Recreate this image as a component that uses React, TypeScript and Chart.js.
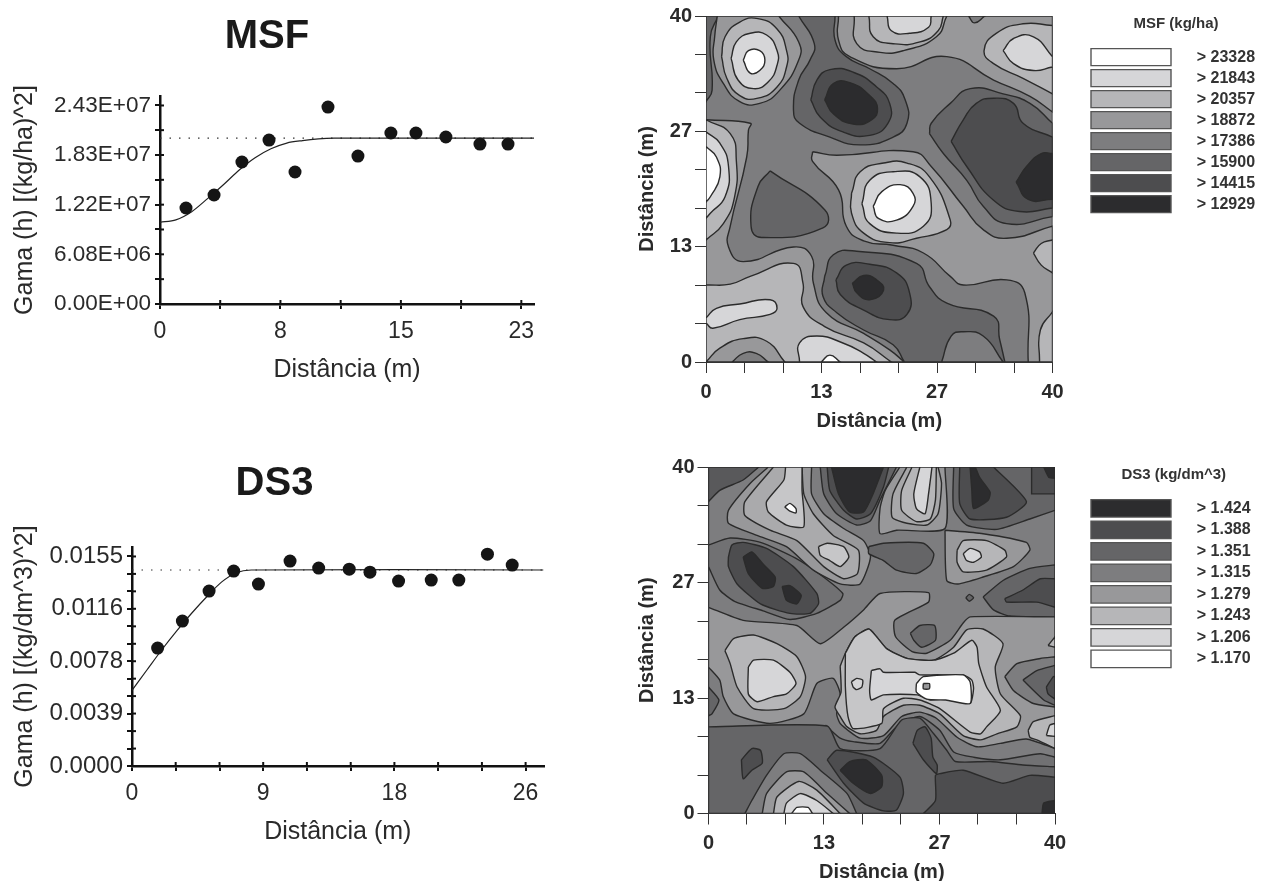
import React, { useEffect, useRef } from "react";
import { Chart, registerables } from "chart.js";

Chart.register(...registerables);

// ---------- semivariograms ----------
const msfLagX = [1.64, 3.41, 5.17, 6.88, 8.52, 10.6, 12.49, 14.57, 16.15, 18.04, 20.19, 21.96];
const msfGamma = [1.175e7, 1.334e7, 1.738e7, 2.007e7, 1.616e7, 2.411e7, 1.811e7, 2.093e7, 2.093e7, 2.044e7, 1.958e7, 1.958e7];
const msfModelX = [0, 1, 2, 3, 4, 5, 6, 7, 8, 9, 10, 11, 12, 23.6];
const msfModelY = [1.0e7, 1.03e7, 1.13e7, 1.29e7, 1.46e7, 1.64e7, 1.79e7, 1.9e7, 1.97e7, 2.0e7, 2.02e7, 2.03e7, 2.03e7, 2.03e7];
const msfSill = 2.03e7;
const msfXTicks = [0, 3.8, 7.6, 11.4, 15.2, 19, 22.8];
const msfXLabels = ["0", "", "8", "", "15", "", "23"];
const msfYTicks = [0, 3.04e6, 6.08e6, 9.12e6, 1.216e7, 1.52e7, 1.824e7, 2.128e7, 2.43e7];
const msfYLabels = ["0.00E+00", "", "6.08E+06", "", "1.22E+07", "", "1.83E+07", "", "2.43E+07"];

const ds3LagX = [1.72, 3.38, 5.17, 6.82, 8.48, 10.6, 12.52, 14.57, 15.96, 17.88, 20.07, 21.92, 23.84, 25.5];
const ds3Gamma = [0.00872, 0.01072, 0.01294, 0.01442, 0.01346, 0.01516, 0.01464, 0.01456, 0.01434, 0.01368, 0.01375, 0.01375, 0.01567, 0.01486];
const ds3ModelX = [0, 1, 2, 3, 4, 5, 6, 7, 8, 27.6];
const ds3ModelY = [0.0056, 0.0071, 0.0086, 0.01, 0.0113, 0.0125, 0.0136, 0.0143, 0.0145, 0.0145];
const ds3Sill = 0.0145;
const ds3XTicks = [0, 2.93, 5.87, 8.8, 11.73, 14.67, 17.6, 20.53, 23.47, 26.4];
const ds3XLabels = ["0", "", "", "9", "", "", "18", "", "", "26"];
const ds3YTicks = [0, 0.00129, 0.00258, 0.00388, 0.00517, 0.00646, 0.00775, 0.00904, 0.01033, 0.01163, 0.01292, 0.01421, 0.0155];
const ds3YLabels = ["0.0000", "", "", "0.0039", "", "", "0.0078", "", "", "0.0116", "", "", "0.0155"];

// ---------- contour maps: [x, y, x, y, ...] in metres ----------
const mapTicks = [0, 4.44, 8.89, 13.33, 17.78, 22.22, 26.67, 31.11, 35.56, 40];
const mapTickLabels = ["0", "", "", "13", "", "", "27", "", "", "40"];
const plot = [0, 0, 40, 0, 40, 40, 0, 40];

const msfRegions: [number, number[]][] = [
  [4, plot],
  [5, [0, 40, 1.4, 40, 0.5, 37.6, 0.7, 31.4, 0, 30.1]],
  [3, [1.3, 40, 8.4, 40, 10.7, 37, 10.7, 34.9, 8.5, 31.4, 6.2, 29.9, 3.9, 30.1, 2, 32.2, 0.9, 34.9, 1, 37.6]],
  [2, [1.8, 35.3, 2.2, 37.6, 3.9, 39.3, 6, 39.7, 8.2, 38.5, 9.3, 36, 9.3, 34.1, 8.2, 31.8, 6, 30.5, 3.9, 30.8, 2.4, 32.8]],
  [1, [2.9, 35.1, 3.5, 37, 5.1, 38, 7, 37.8, 8.2, 36, 8.2, 34.3, 7.2, 32.4, 5.5, 31.6, 3.7, 32.6]],
  [0, [4.3, 34.9, 4.9, 36, 6.2, 36, 6.8, 34.9, 6.2, 33.7, 5.1, 33.4]],
  [5, [10.7, 40, 12.5, 36.8, 12, 34.9, 10.7, 32.6, 10.1, 29.1, 10.8, 27.6, 14.3, 26, 17.8, 25.1, 21.6, 26, 23.2, 27.6, 23, 30.3, 21.6, 32.2, 18.9, 33.9, 16.2, 35.3, 14.9, 37.2, 14.9, 40]],
  [6, [12.1, 30.3, 12.8, 32.6, 14.3, 33.8, 17, 33.5, 19.7, 31.8, 21.2, 29.9, 21, 27.6, 18.9, 26.2, 15.8, 26.6, 13.2, 28.3]],
  [7, [13.7, 30.3, 14.7, 32.2, 16.6, 32.3, 18.9, 30.8, 19.8, 29.3, 19.1, 28, 17, 27.5, 14.7, 28.7]],
  [3, [15.3, 40, 15.3, 37.2, 16.6, 35.3, 22, 33.9, 27.8, 35.3, 33.2, 32.6, 37.4, 30.7, 40, 28.9, 40, 40]],
  [4, [30.3, 40, 31, 39.2, 32.2, 40]],
  [2.5, [17.1, 40, 17.4, 36.8, 20.1, 35.8, 22.8, 36, 26.6, 37.6, 27.8, 40]],
  [2, [18.8, 40, 19.3, 37.6, 21.6, 36.8, 24.7, 37, 26.8, 38.3, 27.4, 40]],
  [1, [20.9, 40, 21.4, 38.3, 23.5, 38, 25.7, 38.7, 26, 40]],
  [2, [40, 38.9, 36.6, 39.1, 33.5, 38, 32.1, 36, 33.2, 34.5, 36.6, 32.8, 40, 31]],
  [1, [34.3, 36, 35.5, 37.4, 37.8, 37.6, 40, 35.3, 40, 34.1, 37.8, 33.7, 35.5, 34.5]],
  [5, [25.8, 26.4, 27.4, 24.1, 30.1, 21, 32, 18, 34.7, 16, 40, 16.8, 40, 27.6, 37.4, 29.9, 34.3, 31, 30.5, 31.6, 28.2, 29.9, 26, 27.6]],
  [6, [28.3, 25.5, 29.7, 28, 31.2, 29.9, 33.2, 30.5, 35.5, 29.9, 36.6, 27.6, 40, 26, 40, 17.8, 36.2, 17.4, 33.2, 18.7, 30.1, 22.6]],
  [7, [35.8, 20.8, 37, 22.6, 38.7, 24.1, 40, 24.1, 40, 18.8, 37.2, 18.8]],
  [3, [0, 28, 5.1, 27.6, 4.9, 26.8, 4.7, 23.7, 2.8, 15.7, 2.6, 13.3, 4.3, 11.6, 10.1, 13.3, 12.2, 12.2, 12.4, 9.1, 13.9, 5.7, 18.2, 3.3, 21.2, 1.4, 22.9, 0, 0, 0]],
  [2, [0, 28, 2.8, 26.4, 3.5, 23.3, 3.3, 19.1, 2, 16, 0, 14.1]],
  [1, [0, 26.6, 1.6, 25.3, 2.6, 22.6, 2.2, 19.1, 0.5, 17.2, 0, 16.6]],
  [0, [0, 24.9, 1.2, 23.7, 1.6, 21.4, 0.5, 19.1, 0, 18.5]],
  [5, [7.4, 22.1, 13.7, 17.6, 13.5, 15.5, 6.4, 14.4, 5.2, 15.7, 6, 20.3]],
  [3, [12.3, 24.3, 15.1, 23.9, 23.9, 24.3, 26, 22.6, 29.7, 18, 32, 15.3, 34.7, 14.3, 40, 15.7, 40, 0, 37.2, 0, 36.8, 8, 34.7, 9.5, 29.7, 8.9, 28.2, 9.9, 25.1, 12.6, 21.6, 13.5, 18.2, 14, 16.2, 15.7, 15.3, 19.9, 12.3, 23.2]],
  [2, [16.8, 19.5, 17.8, 22, 20.5, 23, 23.2, 23, 25.8, 21.4, 28.2, 16.4, 27.8, 15.3, 24.3, 14.3, 21.2, 13.8, 18.2, 14.9, 16.8, 17.2]],
  [1, [18, 18.3, 18.9, 21, 21.6, 22, 24.7, 21.4, 26, 18.3, 25.1, 15.7, 22, 14.9, 18.9, 16]],
  [0, [19.3, 18, 20.3, 19.7, 22.4, 20.5, 23.9, 19.5, 23.9, 18, 22, 16.4, 19.9, 16.6]],
  [5, [13.7, 9.9, 14.7, 12.4, 17.4, 12.8, 24.3, 11.4, 25.8, 8.7, 27.8, 6.8, 33.2, 5.3, 33.9, 2.6, 34.5, 0, 22.9, 0, 21.6, 2, 18.2, 3.7, 15.1, 5.7, 13.5, 7.6]],
  [6, [15, 9.5, 16.2, 11.2, 18.9, 11.3, 22, 10.3, 23.5, 8, 23.2, 5.5, 21.2, 4.9, 18.2, 6, 15.5, 7.8]],
  [7, [16.9, 9.1, 18.2, 10, 19.7, 9.5, 20.5, 8.3, 18.9, 7.2, 17.4, 8]],
  [4, [27.2, 0, 28.3, 3, 29.7, 3.5, 32, 3, 34.3, 0]],
  [2, [0, 8.9, 2.8, 9, 5.1, 9.9, 10.1, 11.4, 11.2, 9.1, 11.2, 6.4, 13.7, 4.1, 18.2, 2.2, 21.4, 0, 0, 0]],
  [1, [0, 5.1, 1.2, 6.2, 3.9, 6.7, 7.4, 7.2, 8.2, 6.2, 7.4, 5.5, 3.9, 4.9, 0.8, 3.9, 0, 4.5]],
  [3, [0, 0, 1.6, 1.6, 4.3, 2.7, 7, 2.4, 9.1, 0]],
  [4, [3, 0, 4.3, 1, 5.8, 1, 7.2, 0]],
  [1, [10.8, 0, 10.8, 2.2, 12.8, 3, 15.8, 2.2, 18.2, 1, 19.7, 0]],
  [0, [13.3, 0, 14.3, 0.8, 15.5, 0]],
  [2, [37.8, 12.6, 38.7, 13.7, 40, 14.1, 40, 10.3, 38.7, 11.2]],
  [2, [38.5, 0, 38.6, 3.7, 40, 5.8, 40, 0]],
];

const ds3Regions: [number, number[]][] = [
  [4, plot],
  [5.5, [0, 40, 5.8, 40, 4, 38.5, 1.3, 37.3, 0, 36]],
  [4.5, [0, 28.5, 1.3, 25.8, 3, 24.5, 6.3, 23.4, 9.4, 22.4, 12.5, 23.1, 15.2, 24.6, 15.5, 25.4, 13, 27.5, 10, 29.5, 6, 31.3, 2.5, 31.8, 0, 31]],
  [6, [2.3, 29.6, 2.7, 31, 4, 31.3, 6.7, 30.6, 9.8, 28.5, 12.5, 25.4, 12.7, 24.2, 11.7, 23.1, 9.4, 23.1, 6, 24.2, 3.3, 26.5, 2.3, 28.5]],
  [7, [4, 29.6, 5, 30.2, 6.3, 28.8, 7.7, 27.3, 7.5, 26.2, 6.2, 26, 4.6, 27.7]],
  [7, [8.5, 26.2, 9.4, 26.3, 10.7, 25.2, 10.2, 24.2, 9, 24.6]],
  [3, [6.9, 40, 4.8, 38.1, 2.3, 35, 2.3, 33.5, 5.6, 32.1, 9, 30.8, 12.1, 28.1, 15.2, 26.5, 17.5, 26.5, 18.7, 29.6, 17.9, 31.5, 15.6, 32.9, 13.3, 34.6, 11.9, 36.9, 11.9, 40]],
  [2.4, [7.5, 40, 4.2, 36, 4.2, 34.4, 7.1, 32.7, 10.2, 31.5, 13.3, 28.5, 15.6, 27.1, 17.2, 27.7, 17.3, 30.4, 14.4, 32.1, 12.1, 34.6, 11, 36.9, 10.8, 40]],
  [1.5, [8.9, 40, 8.7, 38.5, 6.7, 36, 6.9, 34.8, 9, 33.3, 11, 33.1, 10.8, 37.3, 10.8, 40]],
  [0, [8.8, 35.4, 9.4, 35.8, 10.1, 35.2, 10.1, 34.7, 9.4, 34.9]],
  [1.5, [12.7, 30.8, 13.7, 31.2, 15.6, 30.8, 16.2, 29.6, 15.2, 28.5, 14, 29.2, 12.9, 29.8]],
  [5, [12.9, 40, 13.3, 36.9, 14.8, 34.6, 17.1, 33.3, 18.7, 33.8, 19.8, 36.2, 21.7, 40]],
  [6, [13.7, 40, 14, 37.3, 15.6, 35, 17.1, 34, 18.7, 34.6, 20.2, 37.7, 20.8, 40]],
  [7, [14.2, 40, 15, 36.9, 16.3, 34.8, 17.9, 34.8, 19, 36.9, 20.2, 40]],
  [3, [22.1, 40, 20.4, 37.3, 19.8, 35.2, 19.8, 32.3, 21.7, 32.7, 27.3, 32.9, 27.3, 40]],
  [2.5, [22.9, 40, 21.3, 36.9, 21.2, 34.2, 22.9, 33.5, 25.2, 33.3, 26.5, 34.6, 26.9, 38.1, 26.5, 40]],
  [2, [23.5, 40, 22.3, 37.3, 22.3, 35, 24, 33.7, 25.6, 34, 26.2, 36.2, 26.3, 40]],
  [1, [24.4, 40, 23.7, 36.9, 24, 35.2, 25, 34.6, 25.4, 36.9, 25.8, 40]],
  [5, [18.5, 30.8, 20.2, 31.2, 24.8, 31.2, 26, 30, 25.6, 28.7, 24, 27.7, 21.7, 28.1, 20.2, 29.2, 18.5, 30]],
  [5, [28.3, 40, 28.3, 35.2, 29.8, 33.3, 33.3, 32.8, 37.1, 34, 40, 35, 40, 40]],
  [6, [37.3, 40, 37.3, 36.9, 37.3, 36.9, 40, 36.9, 40, 40]],
  [7, [38.7, 40, 39.3, 38.8, 40, 38.7, 40, 40]],
  [6, [29, 40, 29, 35.8, 30.2, 34, 34.4, 34.2, 36.7, 36, 32.9, 40]],
  [7, [30.2, 40, 30.4, 37.3, 30.6, 35.2, 32.3, 36.2, 32.5, 37.1, 31.3, 38.8, 30.8, 40]],
  [3, [27.3, 32.7, 31.7, 32.3, 36.7, 31.3, 37.1, 30.4, 35.2, 28.5, 31.7, 27.3, 28.8, 26.5, 27.5, 26.9]],
  [2, [28.7, 30.4, 29.4, 31.5, 32.1, 31.5, 34.2, 30.4, 34.4, 29.6, 32.1, 28.1, 29.4, 27.9, 28.7, 29]],
  [1, [29.4, 30, 30.2, 30.6, 31.3, 30.2, 31.5, 29.6, 30.6, 29, 29.8, 29.2]],
  [5, [29.7, 24.9, 30.1, 25.3, 30.6, 24.9, 30.1, 24.5]],
  [5, [31.7, 25, 34, 26.9, 37.1, 28.3, 40, 28.7, 40, 22.7, 34.8, 22.8, 32.9, 23.5]],
  [6, [34.2, 24.8, 36.3, 25.8, 38.3, 27.1, 40, 27.1, 40, 23.8, 37.9, 24.4, 34.4, 24.4]],
  [3, [0, 23.8, 4, 22.3, 10.2, 21.7, 12.9, 19.6, 15.6, 21.5, 17.9, 23.5, 19.8, 25.4, 25.4, 25.5, 25.4, 24.4, 21.5, 22.3, 21.6, 20.4, 23.5, 18.7, 25.2, 18.5, 27.9, 20, 29.4, 22, 30.2, 22.7, 40, 22.7, 40, 7.5, 36.7, 8.6, 33.7, 8.1, 31, 7.7, 28.7, 8.8, 26.3, 11, 24.4, 11.7, 22.3, 11.2, 20.2, 9, 17.5, 8.7, 15.2, 10.4, 14.8, 11.5, 15.2, 13.8, 14.4, 15.6, 12.5, 15, 11, 11.5, 7.1, 10.4, 2.9, 11.5, 1.7, 13.5, 1.3, 15.4, 0, 16.9]],
  [5, [23.3, 20.8, 24.4, 21.7, 26.1, 21.7, 26.2, 20, 24.6, 19.2, 23.7, 20]],
  [2, [1.9, 18.8, 2.9, 20.2, 5.2, 20.6, 7.9, 19.6, 10.2, 18.1, 11.2, 15.8, 10.6, 13.5, 8.7, 12.1, 5.2, 12.1, 3.3, 14.6, 2.5, 17.3]],
  [1, [4.6, 16.9, 5.2, 17.7, 7.5, 17.7, 9.4, 16.3, 10.1, 15, 9, 13.8, 7.5, 13.5, 5.6, 12.9, 4.6, 13.8]],
  [2, [15.2, 17, 15.8, 18.5, 16.9, 20.4, 18.5, 21.3, 19.4, 20.4, 20.6, 19, 22.9, 17.9, 26, 17.7, 28.3, 19.2, 29.8, 21.2, 31.7, 21.3, 34, 19.6, 33.1, 16.9, 33.7, 13.8, 36, 11.3, 35.6, 10, 33.3, 9.2, 31.4, 8.5, 29.4, 9, 26.7, 11.5, 24.4, 12.5, 22.5, 12.5, 20.2, 11.2, 19.4, 9.6, 17.5, 9.2, 16, 10, 15.2, 11.2, 14.6, 12.3, 15.3, 14]],
  [1.5, [15.8, 18.5, 16.9, 20.4, 18.5, 21.3, 19.4, 20.4, 20.6, 19, 22.9, 17.9, 26, 17.7, 28.3, 18.5, 30.4, 20, 31, 19.2, 31.2, 17.3, 32.1, 14.6, 33.7, 11.9, 32.1, 10, 31.4, 9.2, 30.2, 9.4, 26.7, 12.1, 24.4, 13.1, 22.5, 13.3, 20.2, 12.1, 20, 10.4, 16.7, 9.8, 16.1, 11.2, 15.8, 14.6]],
  [1, [18.8, 16.5, 19.8, 16.7, 20.2, 16.3, 23.8, 16.3, 24.4, 16, 29.4, 16, 30.4, 15.4, 30.6, 14.4, 30.2, 12.7, 28.3, 13.3, 25.6, 13.1, 24.1, 13.7, 20.2, 13.7, 18.8, 13.1, 18.6, 14.2]],
  [0, [24, 15, 24.8, 15.8, 29.4, 16, 30.2, 15.2, 30.2, 12.7, 27.4, 13.1, 25.2, 13.2, 24, 14]],
  [3, [24.8, 15, 25.5, 15, 25.5, 14.4, 24.8, 14.4]],
  [1, [16.5, 15.2, 17.1, 15.6, 17.8, 15.4, 17.7, 14.6, 17.1, 14.3, 16.7, 14.6]],
  [4, [34.2, 15.8, 35.6, 17.3, 38.3, 17.9, 40, 18.1, 40, 12.3, 37.5, 12.7, 35.2, 14.2]],
  [5, [36.3, 15.4, 37.9, 16.5, 40, 17.1, 40, 12.5, 38.7, 13.1]],
  [6, [39, 14.6, 39.8, 15.8, 40, 15.8, 40, 13.2, 39.2, 13.8]],
  [2, [39.2, 19.4, 40, 20.4, 40, 19.2]],
  [2, [36.9, 9.6, 37.5, 10.6, 40, 11.3, 40, 7.5, 37.9, 8.5, 37.1, 8.8]],
  [1, [39, 9, 39.4, 10.2, 40, 10.4, 40, 8.9]],
  [4.5, [13.5, 10.2, 15.2, 8.7, 16.7, 8.3, 19.8, 8.1, 21.9, 10.2, 24.4, 11.2, 26.7, 9.6, 28.3, 7.1, 30.6, 6.5, 33.7, 6.2, 38.3, 6.9, 40, 6.5, 40, 5, 13.5, 5]],
  [5, [0, 10, 13.7, 10.1, 15.2, 7.5, 19.8, 7.5, 22.3, 10.8, 24.4, 11, 26, 9.2, 27.5, 7.3, 28.5, 6, 32.5, 6, 36.3, 5.6, 40, 5.4, 40, 0, 0, 0]],
  [5, [0, 14.6, 1.2, 13.1, 0.4, 11.5, 0, 11.3]],
  [4, [4.2, 0, 5, 1.5, 6.7, 4.4, 8.7, 6.9, 10.6, 6.9, 12.9, 5, 16, 2.3, 17.1, 0]],
  [3, [6.2, 0, 6.7, 2.3, 9, 4.8, 11, 4.8, 13.7, 2.3, 16.3, 0]],
  [2, [7.5, 0, 7.9, 1.9, 10.4, 3.7, 12.5, 2.7, 15.2, 0]],
  [1, [8.7, 0, 9, 1.2, 10.6, 2.3, 12.5, 1.5, 14.4, 0]],
  [0, [9.6, 0, 10.2, 0.7, 11.5, 0.7, 12, 0]],
  [6, [13.7, 6.2, 14.8, 7.3, 19, 6.5, 22.1, 4.2, 22.5, 2.3, 21.7, 0.4, 20.2, 0.3, 17.9, 1.2, 15.6, 3.5]],
  [7, [15.2, 5, 16.3, 6, 18.2, 6.2, 20, 4.4, 20, 3.1, 18.7, 2.3, 16.7, 3.5]],
  [6, [3.8, 6.2, 5, 7.5, 6, 7.3, 6.2, 5.8, 5, 5, 4, 4]],
  [6, [23.6, 8.1, 24.1, 9.6, 25, 10, 25.7, 8.7, 25.9, 6.5, 26.4, 5.6, 26.3, 4.6, 24.8, 6.2]],
  [6, [24.8, 0, 26.2, 1.5, 26.2, 4.4, 26.7, 4.6, 29.4, 5, 34, 3.5, 37.1, 4.4, 40, 4.2, 40, 0]],
  [7, [38.5, 0, 38.7, 1.2, 40, 1.5, 40, 0]],
];

const msfLegendTitle = "MSF (kg/ha)";
const msfClasses = ["> 23328", "> 21843", "> 20357", "> 18872", "> 17386", "> 15900", "> 14415", "> 12929"];
const msfClassLevels = [0, 1, 2, 3, 4, 5, 6, 7];
const ds3LegendTitle = "DS3 (kg/dm^3)";
const ds3Classes = ["> 1.424", "> 1.388", "> 1.351", "> 1.315", "> 1.279", "> 1.243", "> 1.206", "> 1.170"];
const ds3ClassLevels = [7, 6, 5, 4, 3, 2, 1, 0];

// ---------- styling ----------
const FONT = "'Liberation Sans', Arial, sans-serif";
const grays = [255, 214, 182, 152, 125, 101, 77, 44];
const shade = (level: number) => {
  const a = Math.floor(level);
  const b = Math.min(7, a + 1);
  const g = Math.round(grays[a] + (grays[b] - grays[a]) * (level - a));
  return `rgb(${g},${g},${g + 2})`;
};

const onBorder = (v: number) => v === 0 || v === 40;

function regionData(flat: number[]) {
  const pts: { x: number; y: number }[] = [];
  for (let i = 0; i < flat.length; i += 2) {
    const p = { x: flat[i], y: flat[i + 1] };
    pts.push(p);
    if (onBorder(p.x) || onBorder(p.y)) pts.push({ ...p });
  }
  pts.push({ ...pts[0] });
  return pts;
}

const crossTicks = {
  id: "crossTicks",
  afterDatasetsDraw(chart: any) {
    const { ctx, scales, chartArea } = chart;
    ctx.save();
    ctx.strokeStyle = "#111";
    ctx.lineWidth = 2;
    scales.x.ticks.forEach((_: any, i: number) => {
      const p = scales.x.getPixelForTick(i);
      ctx.beginPath();
      ctx.moveTo(p, chartArea.bottom);
      ctx.lineTo(p, chartArea.bottom - 4);
      ctx.stroke();
    });
    scales.y.ticks.forEach((_: any, i: number) => {
      const p = scales.y.getPixelForTick(i);
      ctx.beginPath();
      ctx.moveTo(chartArea.left, p);
      ctx.lineTo(chartArea.left + 4, p);
      ctx.stroke();
    });
    ctx.restore();
  },
};

type VarioSpec = {
  title: string; yTitle: string; lagX: number[]; gamma: number[]; modelX: number[]; modelY: number[]; sill: number;
  xTicks: number[]; xLabels: string[]; yTicks: number[]; yLabels: string[]; xMax: number; yMax: number;
  left: number; top: number; width: number; height: number; plotLeft: number; plotTop: number; plotBottom: number; plotRight: number;
  titleTop: number; yFont: number;
};

function makeVariogram(canvas: HTMLCanvasElement, s: VarioSpec) {
  return new Chart(canvas, {
    type: "scatter",
    data: {
      datasets: [
        { data: s.lagX.map((x, i) => ({ x, y: s.gamma[i] })), pointRadius: 6.5, pointBackgroundColor: "#151515", pointBorderWidth: 0, showLine: false, order: 0 },
        { data: s.modelX.map((x, i) => ({ x, y: s.modelY[i] })), showLine: true, pointRadius: 0, borderColor: "#222", borderWidth: 1.2, tension: 0.3, order: 1 },
        { data: [{ x: 0, y: s.sill }, { x: s.xMax, y: s.sill }], showLine: true, pointRadius: 0, borderColor: "#333", borderWidth: 1.2, borderDash: [1.5, 8], order: 2 },
      ],
    } as any,
    options: {
      animation: false,
      responsive: false,
      events: [],
      layout: { padding: { right: s.width - s.plotRight } },
      plugins: {
        legend: { display: false },
        tooltip: { enabled: false },
        title: {
          display: true,
          text: s.title,
          color: "#1a1a1a",
          font: { family: FONT, size: 40, weight: "bold", lineHeight: 1 },
          padding: { top: s.titleTop, bottom: s.plotTop - 40 - s.titleTop },
        },
      },
      scales: {
        x: {
          type: "linear",
          min: 0,
          max: s.xMax,
          afterFit: (sc: any) => { sc.height = s.height - s.plotBottom; },
          afterBuildTicks: (sc: any) => { sc.ticks = s.xTicks.map((value) => ({ value })); },
          grid: { drawOnChartArea: false, color: "#111", lineWidth: 2, tickLength: 5 },
          border: { color: "#111", width: 2.5 },
          ticks: { autoSkip: false, maxRotation: 0, color: "#2a2a2a", padding: 9, font: { family: FONT, size: 23 }, callback: (_: any, i: number) => s.xLabels[i] },
          title: { display: true, text: "Distância (m)", color: "#2a2a2a", font: { family: FONT, size: 25 }, padding: { top: 0, bottom: s.height - s.plotBottom - 81 } },
        },
        y: {
          type: "linear",
          min: 0,
          max: s.yMax,
          afterFit: (sc: any) => { sc.width = s.plotLeft; },
          afterBuildTicks: (sc: any) => { sc.ticks = s.yTicks.map((value) => ({ value })); },
          grid: { drawOnChartArea: false, color: "#111", lineWidth: 2, tickLength: 5 },
          border: { color: "#111", width: 2.5 },
          ticks: { autoSkip: false, color: "#2a2a2a", padding: 4, font: { family: FONT, size: s.yFont }, callback: (_: any, i: number) => s.yLabels[i] },
          title: { display: true, text: s.yTitle, color: "#2a2a2a", font: { family: FONT, size: 25 }, padding: { top: 10, bottom: 0 } },
        },
      },
    } as any,
    plugins: [crossTicks],
  });
}

type MapSpec = {
  regions: [number, number[]][]; legendTitle: string; classes: string[]; levels: number[];
  left: number; top: number; width: number; height: number; plotLeft: number; plotTop: number; plotRight: number; plotBottom: number;
  legendLeft: number; legendTop: number; boxHeight: number; tension: number;
};

function makeMap(canvas: HTMLCanvasElement, s: MapSpec) {
  const n = s.regions.length;
  const placeLegend = {
    id: "placeLegend",
    afterLayout(chart: any) {
      const lg = chart.legend;
      const w = lg.width;
      const h = lg.height;
      lg.left = s.legendLeft - s.left;
      lg.top = s.legendTop - s.top;
      lg.right = lg.left + w;
      lg.bottom = lg.top + h;
    },
  };
  return new Chart(canvas, {
    type: "scatter",
    data: {
      datasets: s.regions.map(([level, flat], i) => ({
        data: regionData(flat),
        showLine: true,
        fill: "shape",
        backgroundColor: shade(level),
        borderColor: "#2b2b2b",
        borderWidth: 1.4,
        pointRadius: 0,
        tension: s.tension,
        order: n - i,
      })),
    } as any,
    options: {
      animation: false,
      responsive: false,
      events: [],
      layout: { padding: { top: s.plotTop - s.top, right: s.left + s.width - s.plotRight } },
      plugins: {
        tooltip: { enabled: false },
        legend: {
          position: "chartArea",
          align: "start",
          title: { display: true, text: s.legendTitle, color: "#333", font: { family: FONT, size: 15, weight: "bold" }, padding: { top: 0, bottom: 10.6 } },
          labels: {
            boxWidth: 80,
            boxHeight: s.boxHeight,
            padding: 4,
            color: "#333",
            font: { family: FONT, size: 16, weight: "bold" },
            generateLabels: () =>
              s.classes.map((c, i) => ({
                text: "    " + c,
                fillStyle: shade(s.levels[i]),
                strokeStyle: "#555",
                lineWidth: 1.4,
                hidden: false,
              })),
          },
        },
      },
      scales: {
        x: {
          type: "linear",
          min: 0,
          max: 40,
          afterFit: (sc: any) => { sc.height = s.top + s.height - s.plotBottom; },
          afterBuildTicks: (sc: any) => { sc.ticks = mapTicks.map((value) => ({ value })); },
          grid: { drawOnChartArea: false, color: "#333", lineWidth: 1, tickLength: 11 },
          border: { color: "#333", width: 1 },
          ticks: { autoSkip: false, maxRotation: 0, color: "#2a2a2a", padding: 7, font: { family: FONT, size: 20, weight: "bold" }, callback: (_: any, i: number) => mapTickLabels[i] },
          title: { display: true, text: "Distância (m)", color: "#2a2a2a", font: { family: FONT, size: 20, weight: "bold" }, padding: { top: 0, bottom: s.top + s.height - s.plotBottom - 71 } },
        },
        y: {
          type: "linear",
          min: 0,
          max: 40,
          afterFit: (sc: any) => { sc.width = s.plotLeft - s.left; },
          afterBuildTicks: (sc: any) => { sc.ticks = mapTicks.map((value) => ({ value })); },
          grid: { drawOnChartArea: false, color: "#333", lineWidth: 1, tickLength: 11 },
          border: { color: "#333", width: 1 },
          ticks: { autoSkip: false, color: "#2a2a2a", padding: 3, font: { family: FONT, size: 20, weight: "bold" }, callback: (_: any, i: number) => mapTickLabels[i] },
          title: { display: true, text: "Distância (m)", color: "#2a2a2a", font: { family: FONT, size: 20, weight: "bold" }, padding: { top: 5, bottom: 0 } },
        },
      },
    } as any,
    plugins: [placeLegend],
  });
}

const msfVario: VarioSpec = {
  title: "MSF", yTitle: "Gama (h) [(kg/ha)^2]", lagX: msfLagX, gamma: msfGamma, modelX: msfModelX, modelY: msfModelY, sill: msfSill,
  xTicks: msfXTicks, xLabels: msfXLabels, yTicks: msfYTicks, yLabels: msfYLabels, xMax: 23.6, yMax: 2.546e7,
  left: 0, top: 0, width: 552, height: 400, plotLeft: 160, plotTop: 96, plotBottom: 304, plotRight: 534, titleTop: 17, yFont: 22.5,
};
const ds3Vario: VarioSpec = {
  title: "DS3", yTitle: "Gama (h) [(kg/dm^3)^2]", lagX: ds3LagX, gamma: ds3Gamma, modelX: ds3ModelX, modelY: ds3ModelY, sill: ds3Sill,
  xTicks: ds3XTicks, xLabels: ds3XLabels, yTicks: ds3YTicks, yLabels: ds3YLabels, xMax: 27.6, yMax: 0.0162,
  left: 0, top: 450, width: 550, height: 410, plotLeft: 132, plotTop: 97, plotBottom: 316, plotRight: 549, titleTop: 14, yFont: 24,
};
const msfMap: MapSpec = {
  regions: msfRegions, legendTitle: msfLegendTitle, classes: msfClasses, levels: msfClassLevels,
  left: 630, top: 0, width: 631, height: 440, plotLeft: 706, plotTop: 16, plotRight: 1052.5, plotBottom: 362,
  legendLeft: 1087, legendTop: 16, boxHeight: 17, tension: 0.5,
};
const ds3Map: MapSpec = {
  regions: ds3Regions, legendTitle: ds3LegendTitle, classes: ds3Classes, levels: ds3ClassLevels,
  left: 630, top: 450, width: 631, height: 431, plotLeft: 708.5, plotTop: 467, plotRight: 1055, plotBottom: 813.5,
  legendLeft: 1087, legendTop: 467, boxHeight: 17.5, tension: 0.2,
};

export default function App() {
  const a = useRef<HTMLCanvasElement>(null);
  const b = useRef<HTMLCanvasElement>(null);
  const c = useRef<HTMLCanvasElement>(null);
  const d = useRef<HTMLCanvasElement>(null);
  useEffect(() => {
    const charts = [
      makeVariogram(a.current!, msfVario),
      makeMap(b.current!, msfMap),
      makeVariogram(c.current!, ds3Vario),
      makeMap(d.current!, ds3Map),
    ];
    return () => charts.forEach((ch) => ch.destroy());
  }, []);
  const pos = (s: { left: number; top: number }) => ({ position: "absolute" as const, left: s.left, top: s.top });
  return (
    <div style={{ position: "absolute", left: 0, top: 0, width: 1261, height: 881, overflow: "hidden", background: "#fff" }}>
      <canvas ref={a} width={msfVario.width} height={msfVario.height} style={pos(msfVario)} />
      <canvas ref={b} width={msfMap.width} height={msfMap.height} style={pos(msfMap)} />
      <canvas ref={c} width={ds3Vario.width} height={ds3Vario.height} style={pos(ds3Vario)} />
      <canvas ref={d} width={ds3Map.width} height={ds3Map.height} style={pos(ds3Map)} />
    </div>
  );
}
